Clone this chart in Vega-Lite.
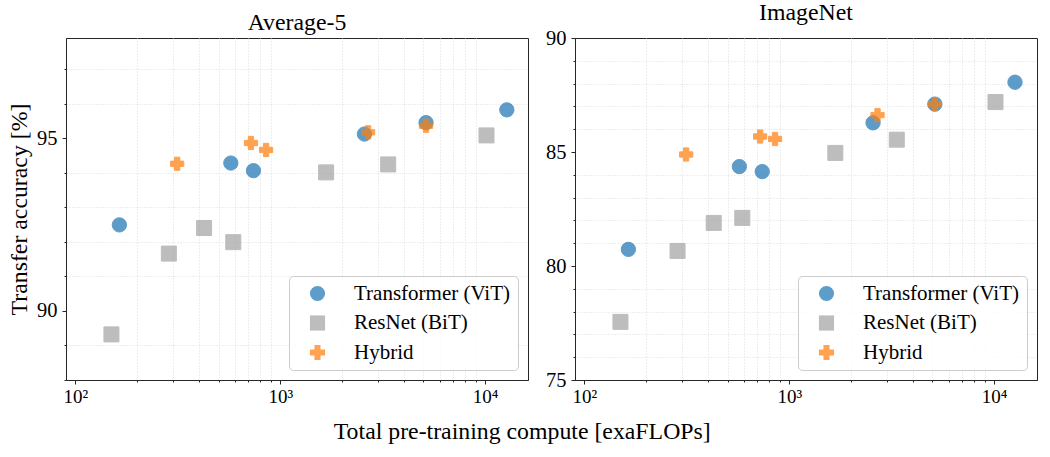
{
  "$schema": "https://vega.github.io/schema/vega-lite/v6.json",
  "background": "white",
  "padding": {"left": 7, "top": 0, "right": 6, "bottom": 4},
  "datasets": {
    "scores": [
      {"panel": "Average-5", "model": "Transformer (ViT)", "compute": 164, "accuracy": 92.49},
      {"panel": "Average-5", "model": "Transformer (ViT)", "compute": 574, "accuracy": 94.28},
      {"panel": "Average-5", "model": "Transformer (ViT)", "compute": 740, "accuracy": 94.06},
      {"panel": "Average-5", "model": "Transformer (ViT)", "compute": 2576, "accuracy": 95.12},
      {"panel": "Average-5", "model": "Transformer (ViT)", "compute": 5150, "accuracy": 95.45},
      {"panel": "Average-5", "model": "Transformer (ViT)", "compute": 12770, "accuracy": 95.82},
      {"panel": "Average-5", "model": "ResNet (BiT)", "compute": 150, "accuracy": 89.32},
      {"panel": "Average-5", "model": "ResNet (BiT)", "compute": 286, "accuracy": 91.66},
      {"panel": "Average-5", "model": "ResNet (BiT)", "compute": 425, "accuracy": 92.4},
      {"panel": "Average-5", "model": "ResNet (BiT)", "compute": 590, "accuracy": 91.99},
      {"panel": "Average-5", "model": "ResNet (BiT)", "compute": 1675, "accuracy": 94.01},
      {"panel": "Average-5", "model": "ResNet (BiT)", "compute": 3365, "accuracy": 94.24},
      {"panel": "Average-5", "model": "ResNet (BiT)", "compute": 10160, "accuracy": 95.08},
      {"panel": "Average-5", "model": "Hybrid", "compute": 314, "accuracy": 94.26},
      {"panel": "Average-5", "model": "Hybrid", "compute": 720, "accuracy": 94.86},
      {"panel": "Average-5", "model": "Hybrid", "compute": 853, "accuracy": 94.66},
      {"panel": "Average-5", "model": "Hybrid", "compute": 2685, "accuracy": 95.17},
      {"panel": "Average-5", "model": "Hybrid", "compute": 5150, "accuracy": 95.36},
      {"panel": "ImageNet", "model": "Transformer (ViT)", "compute": 164, "accuracy": 80.73},
      {"panel": "ImageNet", "model": "Transformer (ViT)", "compute": 571, "accuracy": 84.36},
      {"panel": "ImageNet", "model": "Transformer (ViT)", "compute": 738, "accuracy": 84.14},
      {"panel": "ImageNet", "model": "Transformer (ViT)", "compute": 2565, "accuracy": 86.28},
      {"panel": "ImageNet", "model": "Transformer (ViT)", "compute": 5140, "accuracy": 87.1},
      {"panel": "ImageNet", "model": "Transformer (ViT)", "compute": 12650, "accuracy": 88.06},
      {"panel": "ImageNet", "model": "ResNet (BiT)", "compute": 150, "accuracy": 77.55},
      {"panel": "ImageNet", "model": "ResNet (BiT)", "compute": 285, "accuracy": 80.66},
      {"panel": "ImageNet", "model": "ResNet (BiT)", "compute": 428, "accuracy": 81.89},
      {"panel": "ImageNet", "model": "ResNet (BiT)", "compute": 590, "accuracy": 82.11},
      {"panel": "ImageNet", "model": "ResNet (BiT)", "compute": 1679, "accuracy": 84.96},
      {"panel": "ImageNet", "model": "ResNet (BiT)", "compute": 3350, "accuracy": 85.54},
      {"panel": "ImageNet", "model": "ResNet (BiT)", "compute": 10160, "accuracy": 87.19},
      {"panel": "ImageNet", "model": "Hybrid", "compute": 314, "accuracy": 84.89},
      {"panel": "ImageNet", "model": "Hybrid", "compute": 721, "accuracy": 85.68},
      {"panel": "ImageNet", "model": "Hybrid", "compute": 853, "accuracy": 85.57},
      {"panel": "ImageNet", "model": "Hybrid", "compute": 2698, "accuracy": 86.62},
      {"panel": "ImageNet", "model": "Hybrid", "compute": 5140, "accuracy": 87.1}
    ]
  },
  "config": {
    "font": "Liberation Serif",
    "view": {"stroke": "#262626", "strokeWidth": 1},
    "axis": {
      "labelFont": "Liberation Serif", "titleFont": "Liberation Serif",
      "labelColor": "#000", "titleColor": "#000", "titleFontWeight": "normal",
      "tickColor": "#262626", "domainColor": "#262626",
      "gridColor": "#d4d4d4", "gridWidth": 1
    },
    "legend": {
      "labelFont": "Liberation Serif", "labelFontSize": 21, "labelColor": "#000", "labelLimit": 0,
      "fillColor": "rgba(255,255,255,0.8)", "strokeColor": "#cccccc", "cornerRadius": 4,
      "padding": 7, "rowPadding": 7.5, "symbolOffset": 11, "labelOffset": 26, "symbolSize": 230,
      "symbolStrokeWidth": 0
    },
    "title": {"font": "Liberation Serif", "fontWeight": "normal", "fontSize": 23.8, "color": "#000"},
    "concat": {"spacing": 16}
  },
  "title": {"text": "Total pre-training compute [exaFLOPs]", "orient": "bottom", "anchor": "middle", "offset": 13},
  "resolve": {"scale": {"color": "independent", "shape": "independent"}},
  "hconcat": [
    {
      "title": {"text": "Average-5", "offset": 3},
      "width": 462,
      "height": 342,
      "data": {"name": "scores"},
      "transform": [{"filter": "datum.panel === 'Average-5'"}],
      "layer": [
        {
          "mark": {"type": "point", "opacity": 0},
          "encoding": {
            "x": {"field": "compute", "type": "quantitative",
              "scale": {"type": "log", "domain": [90, 16200], "nice": false},
              "axis": {"orient": "bottom", "title": null, "labels": false, "domain": false, "tickSize": 2,
                "values": [200, 300, 400, 500, 600, 700, 800, 900, 2000, 3000, 4000, 5000, 6000, 7000, 8000, 9000],
                "gridDash": [1, 2], "gridColor": "#dcdcdc"}},
            "y": {"field": "accuracy", "type": "quantitative",
              "scale": {"domain": [88, 97.9], "nice": false, "zero": false},
              "axis": {"orient": "left", "title": null, "labels": false, "domain": false, "tickSize": 2,
                "values": [88, 89, 91, 92, 93, 94, 96, 97],
                "gridDash": [1, 2], "gridColor": "#dcdcdc"}}
          }
        },
        {
          "mark": {"type": "point", "filled": true, "opacity": 0.72, "strokeWidth": 1},
          "encoding": {
            "x": {"field": "compute", "type": "quantitative",
              "scale": {"type": "log", "domain": [90, 16200], "nice": false},
              "axis": {"orient": "bottom", "title": null, "values": [100, 1000, 10000], "tickSize": 4,
                "labelFontSize": 19, "labelPadding": 3,
                "labelExpr": "datum.value == 100 ? '10²' : datum.value == 1000 ? '10³' : '10⁴'"}},
            "y": {"field": "accuracy", "type": "quantitative",
              "scale": {"domain": [88, 97.9], "nice": false, "zero": false},
              "axis": {"orient": "left", "title": "Transfer accuracy [%]", "values": [90, 95], "tickSize": 4,
                "labelFontSize": 20.5, "labelPadding": 5, "titleFontSize": 23.8, "titlePadding": 5}},
            "color": {"field": "model", "type": "nominal",
              "scale": {"domain": ["Transformer (ViT)", "ResNet (BiT)", "Hybrid"], "range": ["#1f77b4", "#a4a4a4", "#ff7f0e"]},
              "legend": {"orient": "bottom-right", "offset": 10, "title": null}},
            "shape": {"field": "model", "type": "nominal",
              "scale": {"domain": ["Transformer (ViT)", "ResNet (BiT)", "Hybrid"], "range": ["circle", "square", "cross"]},
              "legend": {"orient": "bottom-right", "offset": 10, "title": null}},
            "stroke": {"condition": [
                {"test": "datum.model === 'Hybrid'", "value": "#ff7f0e"},
                {"test": "datum.model === 'ResNet (BiT)'", "value": "#a4a4a4"}],
              "value": "#1f77b4"},
            "size": {"condition": [
                {"test": "datum.model === 'Hybrid'", "value": 175},
                {"test": "datum.model === 'ResNet (BiT)'", "value": 225}],
              "value": 205}
          }
        }
      ],
      "resolve": {"axis": {"x": "independent", "y": "independent"}}
    },
    {
      "title": {"text": "ImageNet", "offset": 3},
      "width": 462,
      "height": 342,
      "data": {"name": "scores"},
      "transform": [{"filter": "datum.panel === 'ImageNet'"}],
      "layer": [
        {
          "mark": {"type": "point", "opacity": 0},
          "encoding": {
            "x": {"field": "compute", "type": "quantitative",
              "scale": {"type": "log", "domain": [90, 16200], "nice": false},
              "axis": {"orient": "bottom", "title": null, "labels": false, "domain": false, "tickSize": 2,
                "values": [200, 300, 400, 500, 600, 700, 800, 900, 2000, 3000, 4000, 5000, 6000, 7000, 8000, 9000],
                "gridDash": [1, 2], "gridColor": "#dcdcdc"}},
            "y": {"field": "accuracy", "type": "quantitative",
              "scale": {"domain": [75, 90], "nice": false, "zero": false},
              "axis": {"orient": "left", "title": null, "labels": false, "domain": false, "tickSize": 2,
                "values": [76, 77, 78, 79, 81, 82, 83, 84, 86, 87, 88, 89],
                "gridDash": [1, 2], "gridColor": "#dcdcdc"}}
          }
        },
        {
          "mark": {"type": "point", "filled": true, "opacity": 0.72, "strokeWidth": 1},
          "encoding": {
            "x": {"field": "compute", "type": "quantitative",
              "scale": {"type": "log", "domain": [90, 16200], "nice": false},
              "axis": {"orient": "bottom", "title": null, "values": [100, 1000, 10000], "tickSize": 4,
                "labelFontSize": 19, "labelPadding": 3,
                "labelExpr": "datum.value == 100 ? '10²' : datum.value == 1000 ? '10³' : '10⁴'"}},
            "y": {"field": "accuracy", "type": "quantitative",
              "scale": {"domain": [75, 90], "nice": false, "zero": false},
              "axis": {"orient": "left", "title": null, "values": [75, 80, 85, 90], "tickSize": 4,
                "labelFontSize": 20.5, "labelPadding": 5}},
            "color": {"field": "model", "type": "nominal",
              "scale": {"domain": ["Transformer (ViT)", "ResNet (BiT)", "Hybrid"], "range": ["#1f77b4", "#a4a4a4", "#ff7f0e"]},
              "legend": {"orient": "bottom-right", "offset": 10, "title": null}},
            "shape": {"field": "model", "type": "nominal",
              "scale": {"domain": ["Transformer (ViT)", "ResNet (BiT)", "Hybrid"], "range": ["circle", "square", "cross"]},
              "legend": {"orient": "bottom-right", "offset": 10, "title": null}},
            "stroke": {"condition": [
                {"test": "datum.model === 'Hybrid'", "value": "#ff7f0e"},
                {"test": "datum.model === 'ResNet (BiT)'", "value": "#a4a4a4"}],
              "value": "#1f77b4"},
            "size": {"condition": [
                {"test": "datum.model === 'Hybrid'", "value": 175},
                {"test": "datum.model === 'ResNet (BiT)'", "value": 225}],
              "value": 205}
          }
        }
      ],
      "resolve": {"axis": {"x": "independent", "y": "independent"}}
    }
  ]
}
